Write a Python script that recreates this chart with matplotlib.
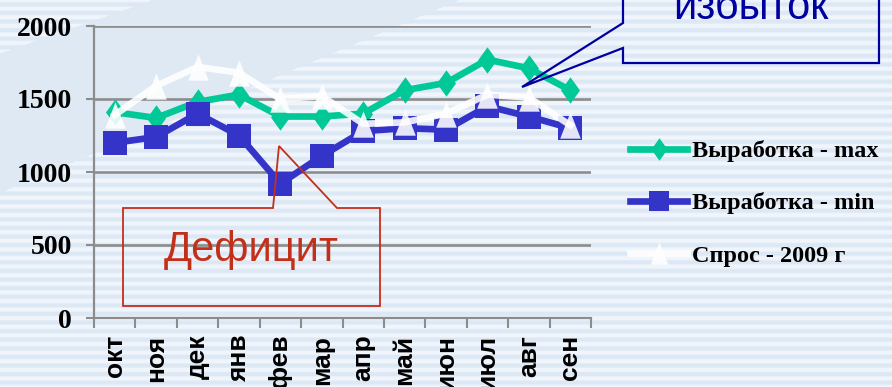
import numpy as np
import matplotlib
matplotlib.use('Agg')
import matplotlib.pyplot as plt
from matplotlib.patches import Polygon
from matplotlib.path import Path

# ---------------- data ----------------
months = ['окт', 'ноя', 'дек', 'янв', 'фев', 'мар', 'апр', 'май', 'июн', 'июл', 'авг', 'сен']
prod_max = [1410, 1370, 1480, 1530, 1380, 1380, 1400, 1560, 1610, 1770, 1710, 1560]
prod_min = [1200, 1240, 1400, 1250, 920, 1110, 1280, 1300, 1290, 1450, 1380, 1300]
demand = [1390, 1590, 1720, 1680, 1500, 1520, 1330, 1340, 1400, 1530, 1510, 1320]
series_labels = ['Выработка - max', 'Выработка - min', 'Спрос - 2009 г']
yticks = [0, 500, 1000, 1500, 2000]
note_deficit = 'Дефицит'
note_surplus = 'избыток'

W, H = 892, 387
fig = plt.figure(figsize=(W / 100, H / 100), dpi=100)


def px(x, y):
    return (x / W, 1 - y / H)


# ---------------- background ----------------
bg = fig.add_axes([0, 0, 1, 1], zorder=-10)
yy, xx = np.mgrid[0:H, 0:W] + 0.5
pale = np.array([240, 245, 252]) / 255
blue = np.array([221, 232, 245]) / 255
solid = np.array([223, 233, 243]) / 255
t = np.clip(0.5 + 0.9 * np.cos(2 * np.pi * yy / 8.6), 0, 1)[..., None]
stripe = t * pale + (1 - t) * blue
band = (yy > 53.5 - 0.35 * xx) & (yy < 193 - 0.42 * xx)
img = np.where(band[..., None], solid, stripe)
bg.imshow(img, extent=[0, W, H, 0], aspect='auto', interpolation='bilinear')
bg.set_xlim(0, W)
bg.set_ylim(H, 0)
bg.axis('off')

# ---------------- main axes ----------------
ax = fig.add_axes([94 / W, 1 - 318 / H, 497 / W, 292 / H])
ax.set_facecolor('none')
x = np.arange(len(months))

green = '#00C896'
navy = '#3434C8'
diamond = Path([(0, 1), (0.72, 0), (0, -1), (-0.72, 0), (0, 1)])
tri = Path([(0, 1), (-0.78, -1), (0.78, -1), (0, 1)])

h1, = ax.plot(x, prod_max, color=green, lw=4.8, marker=diamond, ms=19, mec=green,
              mew=0, zorder=3, clip_on=False, label=series_labels[0])
h2, = ax.plot(x, prod_min, color=navy, lw=4.8, marker='s', ms=17, mec=navy,
              mew=0, zorder=4, clip_on=False, label=series_labels[1])
h3, = ax.plot(x, demand, color='white', lw=4.8, marker=tri, ms=19, mec='white',
              mew=0, alpha=0.88, zorder=5, clip_on=False, label=series_labels[2])

ax.set_xlim(-0.5, len(months) - 0.5)
ax.set_ylim(0, 2000)
ax.set_yticks(yticks)
ax.set_yticklabels([str(v) for v in yticks], family='Liberation Serif',
                   fontweight='bold', fontsize=20)
ax.set_xticks(x)
ax.set_xticklabels(months, rotation=90, family='Liberation Sans',
                   fontweight='bold', fontsize=19, va='top')
ax.set_xticks(np.arange(-0.5, len(months)), minor=True)

gray = '#8C8C8C'
ax.tick_params(axis='y', length=5.8, width=1.5, color=gray, pad=10)
ax.tick_params(axis='x', which='major', length=0, pad=12)
ax.tick_params(axis='x', which='minor', length=7.2, width=1.5, color=gray)
ax.grid(axis='y', color=gray, lw=1.9)
ax.set_axisbelow(True)
for s in ['top', 'right']:
    ax.spines[s].set_visible(False)
for s in ['left', 'bottom']:
    ax.spines[s].set_color(gray)
    ax.spines[s].set_linewidth(1.6)

# ---------------- legend ----------------
fig.legend(handles=[h1, h2, h3], labels=series_labels, loc='upper left',
           bbox_to_anchor=px(630, 140), frameon=False, borderpad=0,
           borderaxespad=0, handlelength=2.35, handletextpad=0.2,
           labelspacing=1.25, markerscale=0.85,
           prop={'family': 'Liberation Serif', 'weight': 'bold', 'size': 17.5})

# ---------------- callouts ----------------
red = '#C3301A'
deficit_poly = [px(123, 208), px(273, 208), px(279, 146), px(337, 208),
                px(380, 208), px(380, 306), px(123, 306)]
fig.add_artist(Polygon(deficit_poly, closed=True, fill=False, ec=red, lw=1.3,
                       transform=fig.transFigure, zorder=6))
fig.text(*px(251, 261), note_deficit, color=red, fontsize=30,
         family=['Liberation Sans Narrow', 'Liberation Sans'],
         ha='center', va='baseline', zorder=7)

dblue = '#0000A0'
surplus_poly = [px(623, -20), px(623, 23), px(522, 87), px(623, 48),
                px(623, 63), px(879, 63), px(879, -20)]
fig.add_artist(Polygon(surplus_poly, closed=False, fill=False, ec=dblue, lw=1.6,
                       transform=fig.transFigure, zorder=6))
fig.text(*px(751, 19), note_surplus, color=dblue, fontsize=30,
         family=['Liberation Sans Narrow', 'Liberation Sans'],
         ha='center', va='baseline', zorder=7)

fig.savefig('out.png', dpi=100)
